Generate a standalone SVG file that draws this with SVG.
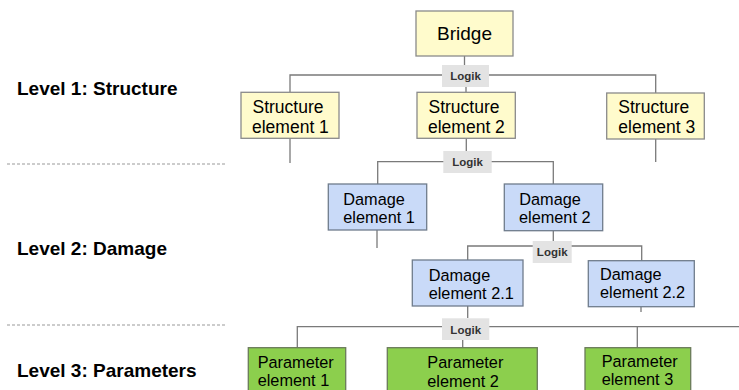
<svg xmlns="http://www.w3.org/2000/svg" width="739" height="390" viewBox="0 0 739 390">
<style>
text{font-family:"Liberation Sans",Arial,sans-serif;fill:#000}
.lvl{font-weight:bold;font-size:19px}
.y{fill:#fffbcc;stroke:#8a8a8a;stroke-width:1.3}
.b{fill:#c9daf8;stroke:#6f7c8c;stroke-width:1.3}
.g{fill:#8ccf4d;stroke:#6a7a5a;stroke-width:1.3}
.s{font-size:17.5px}
.d{font-size:16.3px}
.lg{fill:#e3e3e3}
.lt{font-weight:bold;font-size:11.5px;fill:#333;text-anchor:middle}
.c{fill:none;stroke:#7a7a7a;stroke-width:1.3}
.dash{stroke:#999;stroke-width:1;stroke-dasharray:3 2}
</style>
<rect width="739" height="390" fill="#fff"/>
<g id="levels">
<text class="lvl" x="17" y="95">Level 1: Structure</text>
<text class="lvl" x="17" y="255">Level 2: Damage</text>
<text class="lvl" x="17" y="377">Level 3: Parameters</text>
<line class="dash" x1="7" y1="164" x2="227" y2="164"/>
<line class="dash" x1="7" y1="325" x2="227" y2="325"/>
</g>
<g id="connectors">
<path class="c" d="M464.5 56V65M290 92V75H655.7V93M466 87V92M290 138V163M655.7 139V162M466.3 138V151"/>
<path class="c" d="M377.7 184V161.7H553.3V184M377 230V248M553.3 231V241"/>
<path class="c" d="M467.7 260V246H641.7V261M467.7 306V318M641 307V312"/>
<path class="c" d="M297.3 348V326.7H739M637.3 326.7V348M462.7 340V348"/>
</g>
<g id="logik1"><rect class="lg" x="442" y="65" width="47" height="22"/><text class="lt" x="465.5" y="80">Logik</text></g>
<g id="logik2"><rect class="lg" x="443.3" y="151" width="48.4" height="22"/><text class="lt" x="467.5" y="166">Logik</text></g>
<g id="logik3"><rect class="lg" x="532.7" y="241" width="39" height="22"/><text class="lt" x="552.2" y="256">Logik</text></g>
<g id="logik4"><rect class="lg" x="442" y="318.3" width="47.3" height="21.7"/><text class="lt" x="465.7" y="333.5">Logik</text></g>
<g id="bridge"><rect class="y" x="416" y="11" width="97" height="45"/><text x="464.5" y="40" font-size="19" text-anchor="middle">Bridge</text></g>
<g id="se1"><rect class="y" x="241" y="92.3" width="98" height="46"/><text class="s" x="252.5" y="112.7">Structure</text><text class="s" x="252" y="133.3">element 1</text></g>
<g id="se2"><rect class="y" x="417" y="92.3" width="98.3" height="46"/><text class="s" x="428.5" y="112.7">Structure</text><text class="s" x="428" y="133.3">element 2</text></g>
<g id="se3"><rect class="y" x="606.7" y="93" width="97.6" height="46"/><text class="s" x="618.3" y="112.7">Structure</text><text class="s" x="618.3" y="132.8">element 3</text></g>
<g id="de1"><rect class="b" x="328.3" y="184" width="98.4" height="46"/><text class="d" x="343.3" y="204.5">Damage</text><text class="d" x="343.3" y="222.5">element 1</text></g>
<g id="de2"><rect class="b" x="504.3" y="184" width="98.4" height="46.7"/><text class="d" x="519.3" y="205">Damage</text><text class="d" x="519" y="223">element 2</text></g>
<g id="de21"><rect class="b" x="412.3" y="260" width="110.7" height="46"/><text class="d" x="428.7" y="280.7">Damage</text><text class="d" x="428.7" y="299">element 2.1</text></g>
<g id="de22"><rect class="b" x="588.3" y="260.7" width="106" height="46"/><text class="d" x="600" y="279.7">Damage</text><text class="d" x="600" y="298">element 2.2</text></g>
<g id="pe1"><rect class="g" x="248.3" y="347.7" width="97.4" height="50"/><text class="d" x="257.7" y="367.7">Parameter</text><text class="d" x="257.7" y="386">element 1</text></g>
<g id="pe2"><rect class="g" x="387.3" y="347.7" width="150" height="50"/><text class="d" x="427.3" y="368.3">Parameter</text><text class="d" x="427.3" y="386.7">element 2</text></g>
<g id="pe3"><rect class="g" x="585" y="347.7" width="105.7" height="50"/><text class="d" x="601.7" y="366.7">Parameter</text><text class="d" x="601.7" y="384.5">element 3</text></g>
</svg>
